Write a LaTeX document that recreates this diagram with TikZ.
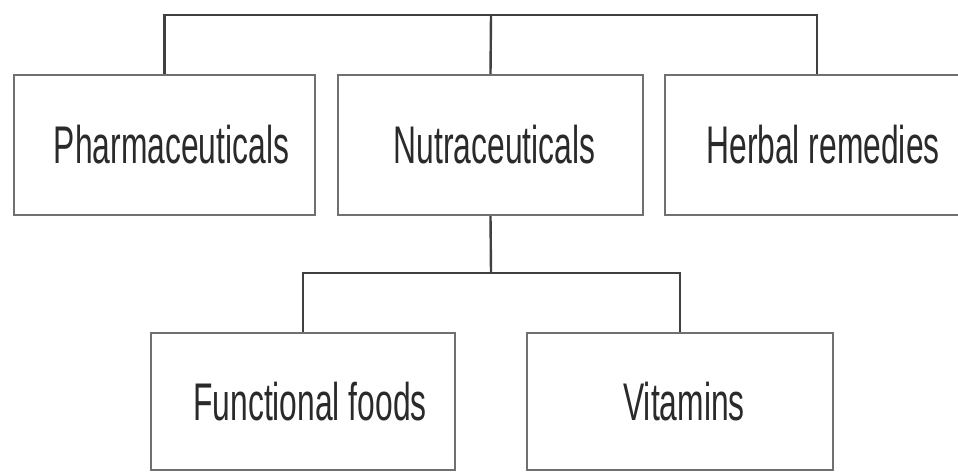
\documentclass[tikz,border=0pt]{standalone}
\usepackage{fontspec}
\setmainfont{Liberation Sans}[FakeStretch=0.6]
\definecolor{boxline}{HTML}{707070}
\definecolor{conline}{HTML}{404040}
\definecolor{txt}{HTML}{2A2A2A}
\begin{document}
\begin{tikzpicture}[x=1pt,y=-1pt,
  catbox/.style={draw=boxline, line width=2.4pt, fill=white, rectangle, inner sep=0pt,
    minimum width=#1, minimum height=140pt, text=txt,
    font=\fontsize{53}{60}\selectfont},
  conn/.style={draw=conline, line width=2.4pt}]
\useasboundingbox (0,0) rectangle (958,472);
\fill[white] (0,0) rectangle (958,472);
\node[catbox=301pt] (ph) at (164.5,145) {\hspace*{14pt}Pharmaceuticals};
\node[catbox=305pt] (nu) at (490.5,145) {\hspace*{8pt}Nutraceuticals};
\node[catbox=304pt] (hb) at (817,145) {\hspace*{12pt}Herbal remedies};
\node[catbox=304pt, minimum height=137pt] (ff) at (303,401.5) {\hspace*{14pt}Functional foods};
\node[catbox=306pt, minimum height=137pt] (vi) at (680,401.5) {\hspace*{8pt}Vitamins};
\coordinate (topbar) at (491,15);
\coordinate (lowbar) at (491,273);
\draw[conn] (ph.north) |- (topbar) -| (hb.north);
\draw[conn] (topbar) -- (nu.north);
\draw[conn] (nu.south) -- (lowbar);
\draw[conn] (ff.north) |- (lowbar) -| (vi.north);
\end{tikzpicture}
\end{document}
